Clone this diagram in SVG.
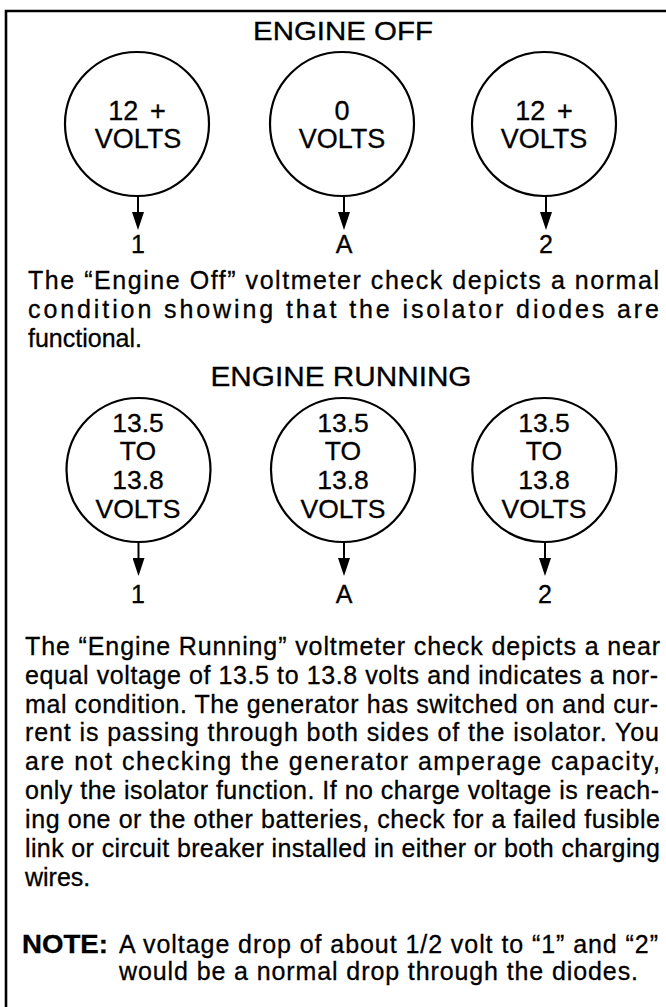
<svg xmlns="http://www.w3.org/2000/svg" width="666" height="1007" viewBox="0 0 666 1007">
<style>
.t{font-family:"Liberation Sans",Arial,Helvetica,sans-serif;fill:#000;stroke:#000;stroke-width:0.3}
.h{font-size:25px;text-anchor:middle}
.c{font-size:27px;text-anchor:middle}
.cr{font-size:26.5px;text-anchor:middle}
.lbl{font-size:25px;text-anchor:middle}
.b{font-size:25px}
.nb{font-size:25px;font-weight:bold}
.ring{fill:none;stroke:#000;stroke-width:2.2}
.wire{stroke:#000;stroke-width:2;fill:none;marker-end:url(#ah)}
.frame{stroke:#000;stroke-width:2.6;fill:none}
</style>
<defs>
<marker id="ah" markerUnits="userSpaceOnUse" markerWidth="18" markerHeight="12" refX="0" refY="6" orient="auto">
<path d="M0,0 L18,6 L0,12 z" fill="#000"/>
</marker>
</defs>
<rect x="0" y="0" width="666" height="1007" fill="#fff"/>
<g id="frame">
<path class="frame" d="M6,1007 V11 H666"/>
</g>
<g id="title-off"><text class="t h" x="343" y="40" textLength="180" lengthAdjust="spacingAndGlyphs">ENGINE OFF</text></g>
<g id="off-1">
<circle class="ring" cx="137" cy="124" r="72"/>
<text class="t c" x="137" y="120">12 <tspan dx="4">+</tspan></text>
<text class="t c" x="138" y="148">VOLTS</text>
</g>
<g id="off-A">
<circle class="ring" cx="342" cy="124" r="72"/>
<text class="t c" x="342" y="120">0</text>
<text class="t c" x="342" y="148">VOLTS</text>
</g>
<g id="off-2">
<circle class="ring" cx="544" cy="124" r="72"/>
<text class="t c" x="544" y="120">12 <tspan dx="4">+</tspan></text>
<text class="t c" x="544" y="148">VOLTS</text>
</g>
<g id="lbl-off-1"><text class="t lbl" x="138" y="253">1</text></g>
<g id="lbl-off-A"><text class="t lbl" x="344" y="253">A</text></g>
<g id="lbl-off-2"><text class="t lbl" x="546" y="253">2</text></g>
<g id="para-off">
<text class="t b" x="28" y="289" textLength="631" lengthAdjust="spacing">The “Engine Off” voltmeter check depicts a normal</text>
<text class="t b" x="28" y="318" textLength="631" lengthAdjust="spacing">condition showing that the isolator diodes are</text>
<text class="t b" x="28" y="347">functional.</text>
</g>
<g id="title-run"><text class="t h" x="341" y="386" style="font-size:27px" textLength="261" lengthAdjust="spacingAndGlyphs">ENGINE RUNNING</text></g>
<g id="run-1">
<circle class="ring" cx="138.5" cy="470" r="72"/>
<text class="t cr" x="138" y="432">13.5</text>
<text class="t cr" x="138" y="460">TO</text>
<text class="t cr" x="138" y="489">13.8</text>
<text class="t cr" x="138" y="518">VOLTS</text>
</g>
<g id="run-A">
<circle class="ring" cx="343" cy="470" r="72"/>
<text class="t cr" x="343" y="432">13.5</text>
<text class="t cr" x="343" y="460">TO</text>
<text class="t cr" x="343" y="489">13.8</text>
<text class="t cr" x="343" y="518">VOLTS</text>
</g>
<g id="run-2">
<circle class="ring" cx="544.3" cy="470" r="72"/>
<text class="t cr" x="544" y="432">13.5</text>
<text class="t cr" x="544" y="460">TO</text>
<text class="t cr" x="544" y="489">13.8</text>
<text class="t cr" x="544" y="518">VOLTS</text>
</g>
<g id="lbl-run-1"><text class="t lbl" x="138" y="603">1</text></g>
<g id="lbl-run-A"><text class="t lbl" x="344" y="603">A</text></g>
<g id="lbl-run-2"><text class="t lbl" x="545" y="603">2</text></g>
<g id="connectors">
<line class="wire" x1="138" y1="196" x2="138" y2="212"/>
<line class="wire" x1="344" y1="196" x2="344" y2="212"/>
<line class="wire" x1="546" y1="196" x2="546" y2="212"/>
<line class="wire" x1="138.5" y1="542" x2="138.5" y2="558"/>
<line class="wire" x1="344" y1="542" x2="344" y2="558"/>
<line class="wire" x1="545" y1="542" x2="545" y2="558"/>
</g>
<g id="para-run">
<text class="t b" x="25" y="655" textLength="635" lengthAdjust="spacing">The “Engine Running” voltmeter check depicts a near</text>
<text class="t b" x="25" y="684" textLength="633" lengthAdjust="spacing">equal voltage of 13.5 to 13.8 volts and indicates a nor-</text>
<text class="t b" x="25" y="712.6" textLength="633" lengthAdjust="spacing">mal condition. The generator has switched on and cur-</text>
<text class="t b" x="25" y="741.4" textLength="634" lengthAdjust="spacing">rent is passing through both sides of the isolator. You</text>
<text class="t b" x="25" y="770.2" textLength="635" lengthAdjust="spacing">are not checking the generator amperage capacity,</text>
<text class="t b" x="25" y="799" textLength="634" lengthAdjust="spacing">only the isolator function. If no charge voltage is reach-</text>
<text class="t b" x="25" y="827.8" textLength="635" lengthAdjust="spacing">ing one or the other batteries, check for a failed fusible</text>
<text class="t b" x="25" y="856.6" textLength="635" lengthAdjust="spacing">link or circuit breaker installed in either or both charging</text>
<text class="t b" x="25" y="886">wires.</text>
</g>
<g id="note">
<text class="t nb" x="22" y="953" textLength="86" lengthAdjust="spacingAndGlyphs">NOTE:</text>
<text class="t b" x="119" y="953" textLength="539" lengthAdjust="spacing">A voltage drop of about 1/2 volt to “1” and “2”</text>
<text class="t b" x="119" y="980" textLength="519" lengthAdjust="spacing">would be a normal drop through the diodes.</text>
</g>
</svg>
